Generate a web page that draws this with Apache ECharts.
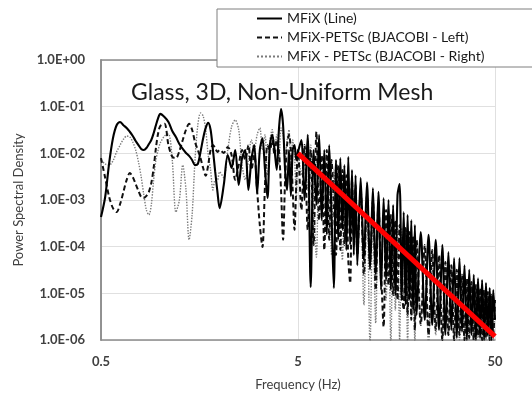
<!DOCTYPE html>
<html>
<head>
<meta charset="utf-8">
<script src="https://cdn.jsdelivr.net/npm/echarts@6/dist/echarts.min.js"></script>
<style>
  html, body { margin: 0; padding: 0; background: #fff; }
  #main { width: 532px; height: 397px; }
</style>
</head>
<body>
<div id="main"></div>
<script>
// Frequency grid (Hz) shared by the three spectra
const freq = [
  0.5,0.525,0.55,0.575,0.6,0.625,0.65,0.675,0.7,0.725,0.75,0.775,0.8,0.825,0.85,0.875,0.9,0.925,0.95,0.975,
  1.0,1.05,1.1,1.15,1.2,1.25,1.3,1.35,1.4,1.45,1.5,1.55,1.6,1.65,1.7,1.75,1.8,1.85,1.9,1.95,
  2.0,2.1,2.2,2.3,2.4,2.5,2.6,2.7,2.8,2.9,3.0,3.1,3.2,3.3,3.4,3.5,3.6,3.7,3.8,3.9,4.0,4.1,4.2,4.3,4.4,4.5,4.6,4.7,4.8,4.9,
  5.0,5.2,5.4,5.6,5.8,6.0,6.2,6.4,6.6,6.8,7.0,7.2,7.4,7.6,7.8,8.0,8.2,8.4,8.6,8.8,9.0,9.2,9.4,9.6,9.8,10.0,
  10.4,10.8,11.2,11.6,12.0,12.4,12.8,13.2,13.6,14.0,14.4,14.8,15.2,15.6,16.0,16.4,16.8,17.2,17.6,18.0,18.4,18.8,19.2,19.6,20.0,
  21,22,23,24,25,26,27,28,29,30,31,32,33,34,35,36,37,38,39,40,41,42,43,44,45,46,47,48,49,50
];

// MFiX (Line)
const psdLine = [
  4.3e-4,1.16e-3,6.2e-3,2.1e-2,4.0e-2,4.7e-2,4.0e-2,3.5e-2,2.9e-2,2.35e-2,1.84e-2,1.5e-2,1.24e-2,1.18e-2,1.3e-2,1.58e-2,1.93e-2,2.7e-2,4.0e-2,5.7e-2,
  7.0e-2,6.0e-2,4.7e-2,3.0e-2,2.24e-2,1.58e-2,1.24e-2,1.02e-2,8.8e-3,7.2e-3,5.6e-3,5.9e-3,1.07e-2,2.1e-2,3.5e-2,4.5e-2,3.2e-2,1.18e-2,4.0e-3,1.5e-3,
  6.7e-4,2.1e-3,9.2e-3,4.85e-3,1.18e-2,2.1e-3,7.9e-3,1.18e-2,1.64e-3,7.2e-3,1.5e-2,1.4e-3,1.18e-2,2.1e-2,4.4e-3,1.1e-3,1.5e-2,2.5e-2,1.18e-2,4.4e-3,
  3.2e-2,8.9e-2,4.0e-2,4.4e-3,1.64e-3,1.18e-2,1.22e-3,1.18e-2,1.5e-2,7.2e-3,
  1.07e-2,1.93e-2,1.0e-3,2.5e-2,1.37e-5,1.18e-2,7.8e-4,2.5e-2,3.7e-4,1.18e-2,1.8e-4,1.5e-2,4.8e-4,1.3e-5,7.2e-3,1.4e-4,7.9e-3,2.3e-4,5.6e-3,8.5e-5,
  8.4e-3,1.09e-4,4.4e-3,6.6e-5,3.4e-3,4.0e-5,
  3.0e-3,5.2e-5,2.4e-3,3.2e-5,1.8e-3,2.5e-5,1.5e-3,1.18e-5,1.1e-3,1.93e-5,1.0e-3,1.18e-5,7.8e-4,9.2e-6,1.28e-3,2.2e-3,7.2e-6,5.5e-4,5.6e-6,4.8e-4,
  7.2e-6,3.7e-4,4.4e-6,2.9e-4,3.4e-6,
  2.06e-4,2.7e-6,1.8e-4,2.1e-6,1.4e-4,1.64e-6,1.09e-4,1.28e-6,7.7e-5,1.64e-6,5.7e-5,1.1e-6,5.7e-5,1.5e-6,4.0e-5,1.0e-6,3.2e-5,1.28e-6,2.5e-5,1.0e-6,
  2.1e-5,1.1e-6,1.93e-5,1.0e-6,1.67e-5,1.22e-6,1.3e-5,1.0e-6,1.18e-5,2.7e-6
];

// MFiX-PETSc (BJACOBI - Left)
const psdLeft = [
  7.9e-3,3.0e-3,1.16e-3,6.7e-4,5.5e-4,8.2e-4,1.5e-3,2.7e-3,3.8e-3,3.1e-3,2.2e-3,1.56e-3,1.16e-3,1.1e-3,1.22e-3,1.5e-3,2.3e-3,4.85e-3,1.3e-2,2.7e-2,
  3.85e-2,4.3e-2,1.5e-2,8.4e-3,7.9e-3,1.12e-2,1.93e-2,3.2e-2,4.3e-2,3.2e-2,1.75e-2,1.18e-2,7.9e-3,4.85e-3,3.3e-3,5.6e-3,1.18e-2,1.5e-2,1.3e-2,1.07e-2,
  1.18e-2,1.02e-2,1.37e-2,9.2e-3,2.7e-3,5.6e-3,1.18e-2,7.2e-3,1.5e-2,4.4e-3,9.2e-3,1.64e-3,2.9e-4,9.8e-5,2.1e-3,1.5e-2,1.18e-2,1.93e-2,9.2e-3,1.93e-2,
  1.18e-2,1.64e-3,1.4e-4,2.7e-3,1.5e-2,2.5e-2,1.18e-2,1.64e-3,2.3e-4,2.1e-3,
  1.18e-2,6.1e-4,1.5e-2,2.3e-4,1.18e-2,1.09e-4,2.9e-2,3.7e-4,9.2e-3,8.5e-5,1.18e-2,1.4e-4,7.2e-3,7.8e-4,6.6e-5,5.6e-3,8.5e-5,4.4e-3,1.09e-4,3.4e-3,
  5.2e-5,1.67e-5,2.7e-3,1.4e-4,2.1e-3,6.6e-5,
  1.64e-3,2.5e-5,1.28e-3,4.0e-5,1.0e-3,1.18e-5,7.8e-4,3.2e-5,1.9e-6,6.1e-4,1.5e-5,4.8e-4,9.2e-6,3.7e-4,7.2e-6,2.9e-4,1.18e-5,4.4e-6,2.5e-4,3.4e-6,
  2.06e-4,2.7e-6,1.7e-4,1.64e-6,1.4e-4,
  2.1e-6,1.09e-4,1.28e-6,8.5e-5,1.64e-6,6.6e-5,1.0e-6,4.7e-5,1.28e-6,4.0e-5,1.0e-6,3.2e-5,1.28e-6,2.5e-5,1.0e-6,2.1e-5,1.1e-6,1.75e-5,1.0e-6,1.5e-5,
  1.22e-6,1.3e-5,1.0e-6,1.18e-5,1.1e-6,1.07e-5,1.0e-6,9.2e-6,1.28e-6,7.2e-6
];

// MFiX - PETSc (BJACOBI - Right)
const psdRight = [
  7.2e-3,5.9e-3,5.6e-3,6.9e-3,1.07e-2,1.5e-2,2.0e-2,2.35e-2,2.24e-2,1.75e-2,1.18e-2,6.5e-3,3.1e-3,1.28e-3,6.1e-4,4.8e-4,7.8e-4,2.7e-3,7.2e-3,1.18e-2,
  1.67e-2,2.35e-2,2.6e-2,7.2e-3,5.5e-4,1.0e-3,5.6e-3,1.64e-3,1.4e-4,4.8e-4,7.2e-3,4.0e-2,7.3e-2,6.3e-2,3.2e-2,9.2e-3,4.4e-3,1.64e-3,2.7e-3,2.7e-3,
  4.0e-3,3.0e-3,1.18e-2,3.7e-2,5.2e-2,3.2e-2,5.6e-3,2.7e-3,7.2e-3,1.93e-2,1.18e-2,2.5e-2,3.5e-2,1.18e-2,2.5e-2,3.4e-3,1.93e-2,3.2e-2,1.18e-2,2.5e-2,
  5.6e-3,3.5e-2,2.5e-2,7.2e-3,1.93e-2,3.2e-2,1.64e-3,1.93e-2,9.2e-3,1.0e-3,
  1.18e-2,3.4e-3,1.18e-2,1.64e-3,1.5e-2,1.0e-3,6.0e-5,1.5e-2,1.28e-3,7.2e-3,6.1e-4,5.6e-3,6.6e-5,4.4e-3,4.8e-4,3.4e-3,2.9e-4,5.2e-5,4.0e-3,2.3e-4,
  2.7e-3,1.8e-4,2.1e-3,1.4e-4,1.64e-3,8.5e-5,
  1.28e-3,5.6e-6,1.0e-3,7.8e-7,7.8e-4,2.3e-6,6.1e-4,1.5e-5,4.8e-4,7.2e-6,4.1e-4,7.8e-7,3.4e-4,4.4e-6,2.9e-4,1.0e-6,2.5e-4,7.2e-6,2.06e-4,7.8e-7,
  1.7e-4,3.4e-6,1.4e-4,7.8e-7,1.14e-4,
  2.7e-6,8.5e-5,7.8e-7,6.6e-5,1.28e-6,5.7e-5,7.8e-7,4.3e-5,1.28e-6,3.5e-5,7.8e-7,2.9e-5,1.0e-6,2.35e-5,7.8e-7,1.93e-5,1.0e-6,1.58e-5,7.8e-7,1.3e-5,
  1.1e-6,1.18e-5,7.8e-7,1.07e-5,1.0e-6,9.2e-6,7.8e-7,7.9e-6,9.1e-7,6.5e-6
];

// Power-law decay guide
const trendFreq = [5, 50];
const trendPsd = [1.0e-2, 1.2e-6];

// Axis tick labels (decades of the log axes)
const xTickLabels = ['0.5', '5', '50'];
const yTickLabels = ['1.0E-06', '1.0E-05', '1.0E-04', '1.0E-03', '1.0E-02', '1.0E-01', '1.0E+00'];

const seriesNames = ['MFiX (Line)', 'MFiX-PETSc (BJACOBI - Left)', 'MFiX - PETSc (BJACOBI - Right)'];

const toPairs = (xs, ys) => xs.map((x, i) => [x, ys[i]]);

const FONT = 'Lato';
const frameLine = { show: true, lineStyle: { color: '#8c8c8c', width: 1.5 } };

const chart = echarts.init(document.getElementById('main'), null, { renderer: 'canvas' });

chart.setOption({
  animation: false,
  backgroundColor: '#ffffff',
  grid: { left: 101, right: 37, top: 60, bottom: 57, containLabel: false },
  title: {
    text: 'Glass, 3D, Non-Uniform Mesh',
    left: 126, top: 76,
    textStyle: { fontFamily: FONT, fontSize: 23, fontWeight: 'normal', color: '#1a1a1a' }
  },
  legend: {
    data: seriesNames,
    orient: 'vertical',
    left: 217, top: 9,
    padding: [2, 120, 3, 39],
    itemWidth: 25, itemHeight: 10, itemGap: 4,
    itemStyle: { opacity: 0 },
    backgroundColor: '#ffffff',
    borderColor: '#7f7f7f', borderWidth: 1,
    textStyle: { fontFamily: FONT, fontSize: 14, color: '#1a1a1a', lineHeight: 15 }
  },
  xAxis: [
    { type: 'log', logBase: 10, min: 0.5, max: 50, position: 'top',
      axisLine: frameLine, axisTick: { show: false }, axisLabel: { show: false }, splitLine: { show: false } },
    { type: 'value', min: 0, max: 2, interval: 1, position: 'bottom',
      axisLine: frameLine, axisTick: { show: false },
      axisLabel: { formatter: v => xTickLabels[Math.round(v)], margin: 15, fontFamily: FONT, fontSize: 13, fontWeight: 'bold', color: '#404040' },
      splitLine: { show: true, lineStyle: { color: '#e0e0e0', width: 1 } },
      name: 'Frequency (Hz)', nameLocation: 'middle', nameGap: 38,
      nameTextStyle: { fontFamily: FONT, fontSize: 13, color: '#404040' } }
  ],
  yAxis: [
    { type: 'log', logBase: 10, min: 1e-6, max: 1, position: 'right',
      axisLine: frameLine, axisTick: { show: false }, axisLabel: { show: false }, splitLine: { show: false } },
    { type: 'value', min: -6, max: 0, interval: 1, position: 'left',
      axisLine: frameLine, axisTick: { show: false },
      axisLabel: { formatter: v => yTickLabels[Math.round(v) + 6], margin: 16, fontFamily: FONT, fontSize: 13, fontWeight: 'bold', color: '#404040' },
      splitLine: { show: true, lineStyle: { color: '#e0e0e0', width: 1 } },
      name: 'Power Spectral Density', nameLocation: 'middle', nameGap: 76,
      nameTextStyle: { fontFamily: FONT, fontSize: 13, color: '#404040' } }
  ],
  series: [
    { name: seriesNames[2], type: 'line', xAxisIndex: 0, yAxisIndex: 0, data: toPairs(freq, psdRight),
      showSymbol: false, symbol: 'none', smooth: 0.3, z: 2,
      lineStyle: { color: '#7a7a7a', width: 1.4, type: 'dotted' }, itemStyle: { color: '#7a7a7a' } },
    { name: seriesNames[1], type: 'line', xAxisIndex: 0, yAxisIndex: 0, data: toPairs(freq, psdLeft),
      showSymbol: false, symbol: 'none', smooth: 0.3, z: 3,
      lineStyle: { color: '#111111', width: 2, type: [5, 3] }, itemStyle: { color: '#111111' } },
    { name: seriesNames[0], type: 'line', xAxisIndex: 0, yAxisIndex: 0, data: toPairs(freq, psdLine),
      showSymbol: false, symbol: 'none', smooth: 0.3, z: 4,
      lineStyle: { color: '#000000', width: 2.1, type: 'solid' }, itemStyle: { color: '#000000' } },
    { name: 'trend', type: 'line', xAxisIndex: 0, yAxisIndex: 0, data: toPairs(trendFreq, trendPsd),
      showSymbol: false, symbol: 'none', z: 5,
      lineStyle: { color: '#ff0000', width: 5 }, itemStyle: { color: '#ff0000' } }
  ]
});
</script>
</body>
</html>
